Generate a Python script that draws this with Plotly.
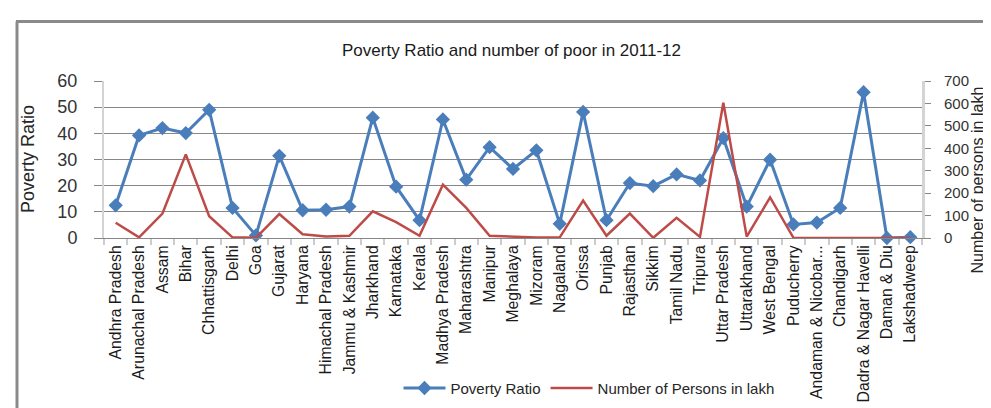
import plotly.graph_objects as go

states = ["Andhra Pradesh", "Arunachal Pradesh", "Assam", "Bihar", "Chhattisgarh", "Delhi", "Goa",
          "Gujarat", "Haryana", "Himachal Pradesh", "Jammu & Kashmir", "Jharkhand", "Karnataka",
          "Kerala", "Madhya Pradesh", "Maharashtra", "Manipur", "Meghalaya", "Mizoram", "Nagaland",
          "Orissa", "Punjab", "Rajasthan", "Sikkim", "Tamil Nadu", "Tripura", "Uttar Pradesh",
          "Uttarakhand", "West Bengal", "Puducherry", "Andaman & Nicobar...", "Chandigarh",
          "Dadra & Nagar Havelli", "Daman & Diu", "Lakshadweep"]

poverty_ratio = [12.5, 39.2, 42.0, 40.1, 49.0, 11.5, 1.0, 31.4, 10.6, 10.8, 12.0, 46.0, 19.6,
                 6.8, 45.3, 22.3, 34.7, 26.4, 33.5, 5.4, 48.2, 6.8, 21.0, 19.8, 24.3, 22.0, 38.2,
                 12.0, 29.9, 5.2, 5.9, 11.5, 55.7, 0.0, 0.3]

persons_lakh = [68, 3, 109, 373, 97, 3, 1, 107, 17, 7, 10, 119, 71, 10, 238, 134, 10, 6, 2, 3,
                167, 10, 109, 1, 90, 5, 603, 6, 181, 1, 0.5, 0.5, 0.5, 0.5, 0.2]

left_ticks = [0, 10, 20, 30, 40, 50, 60]
right_ticks = [0, 100, 200, 300, 400, 500, 600, 700]

FONT = "Liberation Sans, Arial, sans-serif"
BLUE = "#4A7EBB"
RED = "#BE4B48"

fig = go.Figure()
fig.add_trace(go.Scatter(
    x=states, y=poverty_ratio, name="Poverty Ratio", mode="lines+markers",
    line=dict(color=BLUE, width=3), marker=dict(symbol="diamond", size=11, color=BLUE),
    cliponaxis=False, yaxis="y"))
fig.add_trace(go.Scatter(
    x=states, y=persons_lakh, name="Number of Persons in lakh", mode="lines",
    line=dict(color=RED, width=2.5), yaxis="y2"))

fig.update_layout(
    width=991, height=408, autosize=False,
    margin=dict(l=96, r=77, t=73, b=174, pad=0),
    paper_bgcolor="white", plot_bgcolor="white",
    font=dict(family=FONT, color="#262626"),
    showlegend=True,
    legend=dict(orientation="h", x=(581 - 96) / 818, xanchor="center", y=-0.957, yanchor="middle",
                font=dict(size=15, family=FONT, color="#262626"), itemwidth=42,
                bgcolor="rgba(0,0,0,0)"),
    xaxis=dict(type="category", range=[-0.5, len(states) - 0.5], tickangle=-90,
               tickfont=dict(size=15.8, family=FONT, color="#1a1a1a"),
               ticks="outside", tickson="boundaries", ticklen=6, tickwidth=2,
               tickcolor="#cccccc", showline=True, linecolor="#878787", linewidth=1,
               showgrid=False, fixedrange=True),
    yaxis=dict(range=[0, 60], tickvals=left_ticks, showgrid=True, gridcolor="#878787",
               gridwidth=1, zeroline=False, showline=True, linecolor="#d4d4d4", linewidth=2,
               ticks="outside", ticklen=8, tickcolor="#878787",
               tickfont=dict(size=18, family=FONT, color="#333333"),
               ticklabelstandoff=13),
    yaxis2=dict(range=[0, 700], tickvals=right_ticks, overlaying="y", side="right",
                showgrid=False, zeroline=False, showline=True, linecolor="#d4d4d4", linewidth=3,
                ticks="outside", ticklen=6, tickcolor="#878787",
                tickfont=dict(size=15, family=FONT, color="#333333"),
                ticklabelstandoff=10),
    annotations=[
        dict(text="Poverty Ratio and number of poor in 2011-12", xref="paper", yref="paper",
             x=(503 - 96) / 818, y=(234 - 42) / 161, xanchor="center", yanchor="middle",
             showarrow=False, font=dict(size=17, family=FONT, color="#1a1a1a")),
        dict(text="Poverty Ratio", xref="paper", yref="paper", textangle=-90,
             x=(20 - 96) / 818, y=(234 - 153) / 161, xanchor="center", yanchor="middle",
             showarrow=False, font=dict(size=18, family=FONT, color="#262626")),
        dict(text="Number of persons in lakh", xref="paper", yref="paper", textangle=-90,
             x=(969 - 96) / 818, y=(234 - 175) / 161, xanchor="center", yanchor="middle",
             showarrow=False, font=dict(size=16, family=FONT, color="#262626")),
    ],
    shapes=[
        dict(type="line", xref="paper", yref="paper",
             x0=(9 - 96) / 818, x1=(9 - 96) / 818, y0=(234 - 12) / 161, y1=(234 - 420) / 161,
             line=dict(color="#8a8a8a", width=3)),
        dict(type="line", xref="paper", yref="paper",
             x0=(8 - 96) / 818, x1=(1000 - 96) / 818, y0=(234 - 12) / 161, y1=(234 - 12) / 161,
             line=dict(color="#8a8a8a", width=3)),
    ],
)

fig.write_html("out.html", config={"displayModeBar": False})
